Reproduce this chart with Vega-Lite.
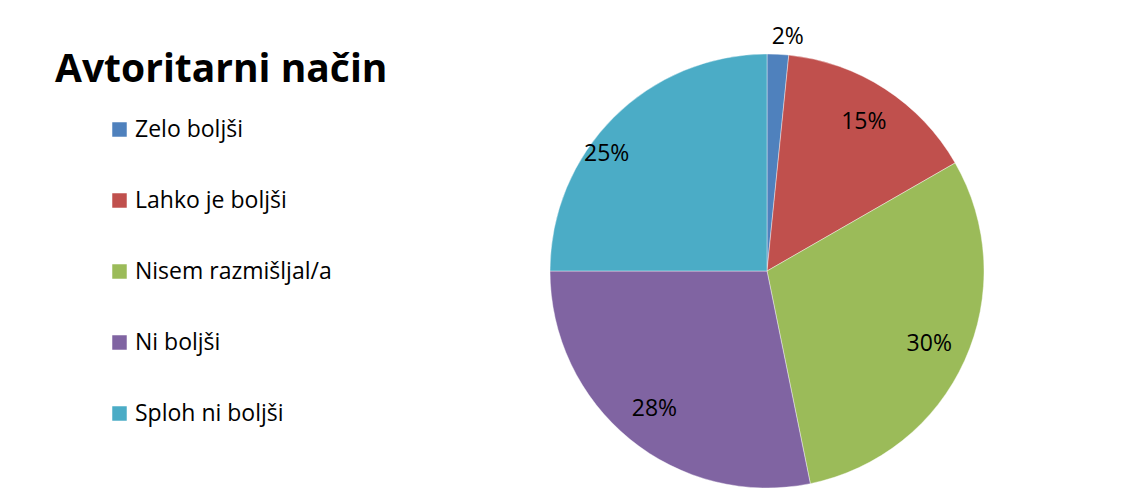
{
  "$schema": "https://vega.github.io/schema/vega-lite/v6.json",
  "autosize": {"type": "none"},
  "padding": {"left": 550, "top": 54, "right": 140, "bottom": 0},
  "width": 434,
  "height": 434,
  "background": "white",
  "title": {
    "text": "Avtoritarni način",
    "anchor": "start",
    "frame": "group",
    "orient": "none",
    "baseline": "alphabetic",
    "offset": 0,
    "dx": -495,
    "dy": 28,
    "font": "Open Sans",
    "fontSize": 39,
    "fontWeight": "bold",
    "color": "black"
  },
  "data": {
    "values": [
      {"kategorija": "Zelo boljši", "delez": 0.016, "red": 1},
      {"kategorija": "Lahko je boljši", "delez": 0.151, "red": 2},
      {"kategorija": "Nisem razmišljal/a", "delez": 0.301, "red": 3},
      {"kategorija": "Ni boljši", "delez": 0.282, "red": 4},
      {"kategorija": "Sploh ni boljši", "delez": 0.25, "red": 5}
    ]
  },
  "encoding": {
    "theta": {"field": "delez", "type": "quantitative", "stack": true},
    "order": {"field": "red", "type": "quantitative"}
  },
  "layer": [
    {
      "mark": {"type": "arc", "stroke": "white", "strokeWidth": 0.4},
      "encoding": {
        "color": {
          "field": "kategorija",
          "type": "nominal",
          "scale": {
            "domain": ["Zelo boljši", "Lahko je boljši", "Nisem razmišljal/a", "Ni boljši", "Sploh ni boljši"],
            "range": ["#4F81BD", "#C0504D", "#9BBB59", "#8064A2", "#4BACC6"]
          },
          "legend": {
            "title": null,
            "orient": "none",
            "legendX": -442,
            "legendY": 64,
            "symbolType": "square",
            "symbolSize": 210,
            "symbolStrokeWidth": 0,
            "symbolOpacity": 1,
            "labelFont": "Open Sans",
            "labelFontSize": 23,
            "labelColor": "black",
            "labelOffset": 4,
            "rowPadding": 47,
            "labelLimit": 400
          }
        }
      }
    },
    {
      "mark": {"type": "text", "radius": 178, "font": "Open Sans", "fontSize": 23, "color": "black"},
      "encoding": {
        "text": {
          "condition": {"test": "datum.red == 1 || datum.red == 5", "value": ""},
          "field": "delez", "type": "quantitative", "format": ".0%"
        }
      }
    },
    {
      "mark": {"type": "text", "radius": 234, "dx": 9, "font": "Open Sans", "fontSize": 23, "color": "black"},
      "encoding": {
        "text": {
          "condition": {"test": "datum.red != 1", "value": ""},
          "field": "delez", "type": "quantitative", "format": ".0%"
        }
      }
    },
    {
      "mark": {"type": "text", "radius": 180, "dx": -33, "dy": 10, "font": "Open Sans", "fontSize": 23, "color": "black"},
      "encoding": {
        "text": {
          "condition": {"test": "datum.red != 5", "value": ""},
          "field": "delez", "type": "quantitative", "format": ".0%"
        }
      }
    }
  ]
}
